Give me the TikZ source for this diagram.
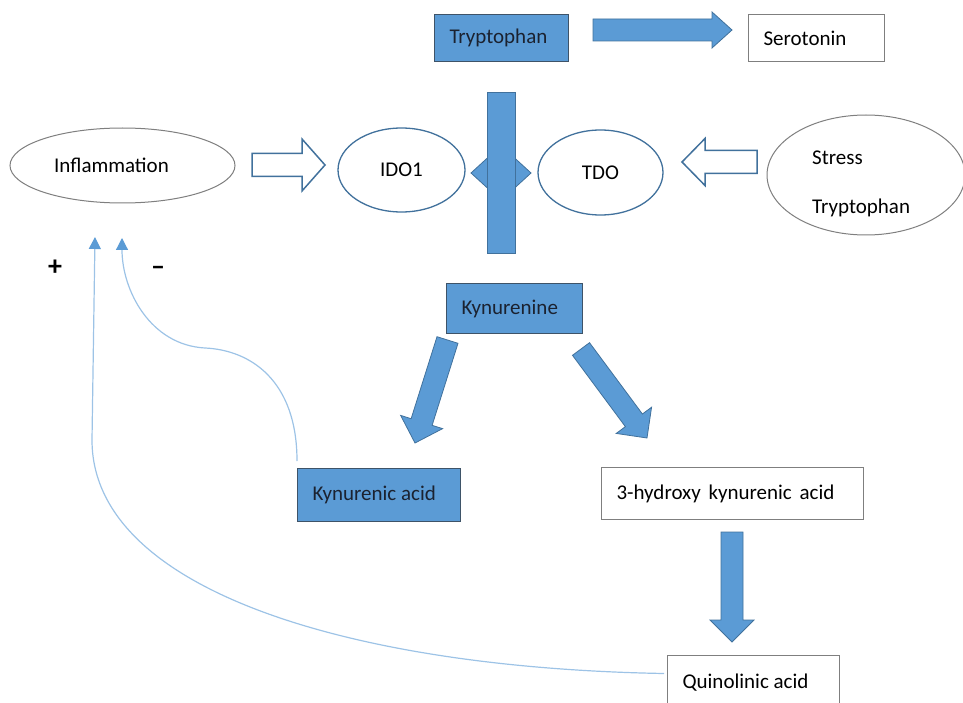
\documentclass[tikz,border=0pt]{standalone}
\usepackage{fontspec}
\setmainfont{Carlito}
\usetikzlibrary{calc,arrows.meta,shapes.geometric}
\definecolor{fillblue}{HTML}{5B9BD5}
\definecolor{edgeblue}{HTML}{41719C}
\definecolor{lineblue}{HTML}{9DC3E6}
\definecolor{boxedge}{HTML}{3E5368}
\definecolor{grayedge}{HTML}{7F7F7F}
\definecolor{darktext}{HTML}{1B2230}

% block arrow: #1 start, #2 tip, #3 half body, #4 half head, #5 head length, #6 style
\newcommand\blockarrow[6]{%
  \coordinate (ba-h) at ($(#2)!#5!(#1)$);
  \draw[#6] ($(#1)!#3!90:(#2)$) -- ($(ba-h)!#3!90:(#2)$) -- ($(ba-h)!#4!90:(#2)$)
    -- (#2) -- ($(ba-h)!#4!-90:(#2)$) -- ($(ba-h)!#3!-90:(#2)$) -- ($(#1)!#3!-90:(#2)$) -- cycle;
}

\begin{document}
\begin{tikzpicture}[x=1pt,y=-1pt,
  txt/.style={font=\fontsize{21pt}{25pt}\selectfont},
  box/.style={txt, rectangle, anchor=north west, inner xsep=15pt, inner ysep=0pt, align=flush left, line width=1pt},
  bluebox/.style={box, fill=fillblue, draw=boxedge, text=darktext},
  whitebox/.style={box, fill=white, draw=grayedge},
  oval/.style={txt, ellipse, inner sep=0pt, draw=edgeblue, fill=white, line width=1.3pt},
  grayoval/.style={txt, ellipse, inner sep=0pt, draw=grayedge, fill=white, line width=1pt},
  solidarrow/.style={fill=fillblue, draw=edgeblue, line width=0.8pt, line join=miter},
  hollowarrow/.style={fill=white, draw=edgeblue, line width=1.5pt, line join=miter},
  fb/.style={draw=lineblue, line width=1.2pt, -{Triangle[width=12pt,length=12pt,color=fillblue]}},
  sign/.style={font=\fontsize{28pt}{30pt}\selectfont\bfseries, inner sep=0pt}
]
\useasboundingbox (0,0) rectangle (963,703);
\clip (0,0) rectangle (963,703);

% boxes
\node[bluebox, text width=104pt, minimum height=47pt] (trp) at (434,14) {Tryptophan};
\node[whitebox, text width=106pt, minimum height=47pt] (ser) at (748,14) {Serotonin};
\node[bluebox, text width=106pt, minimum height=50pt] (kyn) at (446,283) {Kynurenine};
\node[bluebox, text width=133pt, minimum height=53pt] (kyna) at (297,468) {Kynurenic acid};
\node[whitebox, text width=232pt, minimum height=52pt] (hk) at (601,467) {3-hydroxy\hspace{3pt} kynurenic\hspace{3pt} acid};
\node[whitebox, text width=142pt, minimum height=54pt] (quin) at (667,655) {Quinolinic acid};

% ovals
\node[grayoval, minimum width=225pt, minimum height=75pt] (infl) at (122.5,165.5) {\hspace*{-22pt}Inflammation};
\node[oval, minimum width=127pt, minimum height=84pt] (ido) at (401.5,170) {IDO1};
\node[oval, minimum width=125pt, minimum height=85pt] (tdo) at (600.5,172.5) {TDO};
\node[grayoval, minimum width=198pt, minimum height=120pt] (stress) at (866,175) {};
\node[txt, anchor=west, inner sep=0pt] (stress1) at (812,158) {Stress};
\node[txt, anchor=west, inner sep=0pt] (stress2) at (812,208) {Tryptophan};

% double arrow behind the vertical bar
\draw[solidarrow] (471,173) -- (495,151) -- (495,163) -- (507,163) -- (507,151) -- (531,173)
  -- (507,195) -- (507,183) -- (495,183) -- (495,195) -- cycle;
% vertical bar
\node[draw=edgeblue, fill=fillblue, line width=0.8pt, minimum width=28pt, minimum height=161pt, inner sep=0pt] (bar) at (501,172.5) {};

% block arrows
\coordinate (a1s) at (593,30);  \coordinate (a1e) at (732,30);
\blockarrow{a1s}{a1e}{11pt}{18pt}{20pt}{solidarrow}
\coordinate (a2s) at (447.5,340);  \coordinate (a2e) at (415,443);
\blockarrow{a2s}{a2e}{11pt}{22pt}{22pt}{solidarrow}
\coordinate (a3s) at (581,349);  \coordinate (a3e) at (647,438);
\blockarrow{a3s}{a3e}{10.6pt}{22pt}{22pt}{solidarrow}
\coordinate (a4s) at (732,532);  \coordinate (a4e) at (732,642);
\blockarrow{a4s}{a4e}{11pt}{22pt}{22pt}{solidarrow}
\coordinate (h1s) at (252,165);  \coordinate (h1e) at (325,165);
\blockarrow{h1s}{h1e}{11.5pt}{26pt}{23pt}{hollowarrow}
\coordinate (h2s) at (757,162);  \coordinate (h2e) at (682,162);
\blockarrow{h2s}{h2e}{11.5pt}{23.5pt}{23pt}{hollowarrow}

% feedback connectors
\coordinate (plusend) at (95,237);
\coordinate (minusend) at (122,238);
\draw[fb] ($(quin.west)+(-3,-9)$) .. controls (350,668) and (92,590) .. (92,440) -- (plusend);
\draw[fb] ($(kyna.north west)+(0,-7)$) .. controls (297,380) and (250,350) .. (205,348)
  .. controls (150,345) and (122,290) .. (minusend);

% signs
\node[sign] (plus) at (55,268) {+};
\node[sign] (minus) at (158,271) {–};
\end{tikzpicture}
\end{document}
